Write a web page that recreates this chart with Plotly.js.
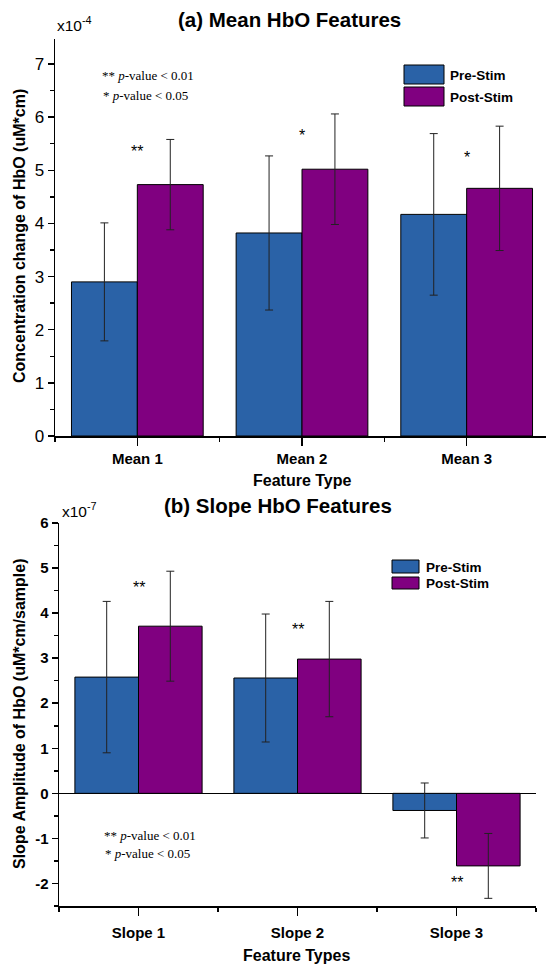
<!DOCTYPE html>
<html>
<head>
<meta charset="utf-8">
<script src="https://cdn.plot.ly/plotly-3.0.1.min.js"></script>
<style>
html,body{margin:0;padding:0;overflow:hidden;background:#fff;}
#chart{width:552px;height:965px;}
</style>
</head>
<body>
<div id="chart"></div>
<script>
// ---------- data (values in units of the axis multipliers) ----------
const categoriesMean = ['Mean 1', 'Mean 2', 'Mean 3'];
const preMean = [2.90, 3.82, 4.17];
const preMeanErr = [1.11, 1.45, 1.52];
const postMean = [4.73, 5.02, 4.66];
const postMeanErr = [0.85, 1.04, 1.17];
const sigMean = ['**', '*', '*'];
const sigMeanY = [5.35, 5.65, 5.24];

const categoriesSlope = ['Slope 1', 'Slope 2', 'Slope 3'];
const preSlope = [2.58, 2.56, -0.38];
const preSlopeErr = [1.68, 1.42, 0.61];
const postSlope = [3.71, 2.98, -1.61];
const postSlopeErr = [1.22, 1.28, 0.72];
const sigSlope = ['**', '**', '**'];
const sigSlopeY = [4.56, 3.63, -1.97];

const seriesNames = ['Pre-Stim', 'Post-Stim'];
const meanTickLabels = ['0','1','2','3','4','5','6','7'];
const slopeTickLabels = ['-2','-1','0','1','2','3','4','5','6'];

// ---------- style ----------
const BLUE = '#2A62A7';
const PURPLE = '#800080';
const SANS = 'Liberation Sans, Arial, sans-serif';
const SERIF = 'Liberation Serif, Times New Roman, serif';
const W = 552, H = 965;
const px = x => x / W;
const py = y => 1 - y / H;

const idxM = categoriesMean.map((c, i) => i);
const idxS = categoriesSlope.map((c, i) => i);

function barTrace(name, x, y, err, color, xa, ya) {
  return {
    type: 'bar', name: name, x: x, y: y, xaxis: xa, yaxis: ya,
    marker: {color: color, line: {color: '#000', width: 1}},
    error_y: {type: 'data', array: err, visible: true, color: '#222', thickness: 1, width: 4},
    showlegend: false, hoverinfo: 'x+y'
  };
}

const data = [
  barTrace(seriesNames[0], idxM, preMean, preMeanErr, BLUE, 'x', 'y'),
  barTrace(seriesNames[1], idxM, postMean, postMeanErr, PURPLE, 'x', 'y'),
  barTrace(seriesNames[0], idxS, preSlope, preSlopeErr, BLUE, 'x2', 'y2'),
  barTrace(seriesNames[1], idxS, postSlope, postSlopeErr, PURPLE, 'x2', 'y2')
];

const axLine = {showline: true, linecolor: '#000', linewidth: 1.5, showgrid: false, zeroline: false,
  tickcolor: '#000', tickwidth: 1.5, fixedrange: true};

const domXTop = [px(55), px(549)];
const domYTop = [py(436), py(39)];
const domXBot = [px(59), px(536)];
const domYBot = [py(906), py(523)];

const layout = {
  width: W, height: H,
  margin: {l: 0, r: 0, t: 0, b: 0, pad: 0},
  paper_bgcolor: '#fff', plot_bgcolor: 'rgba(0,0,0,0)',
  barmode: 'group', bargap: 0.2, bargroupgap: 0,
  showlegend: false,
  font: {family: SANS, color: '#000'},
  xaxis: Object.assign({}, axLine, {
    domain: domXTop, anchor: 'y', range: [-0.5, 2.5],
    tickmode: 'array', tickvals: idxM, ticktext: categoriesMean,
    ticks: 'outside', ticklen: 8,
    tickfont: {family: SANS, size: 15, weight: 'bold'},
    minor: {tick0: -0.5, dtick: 1, ticks: 'outside', ticklen: 4, tickwidth: 1.5, tickcolor: '#000'}
  }),
  yaxis: Object.assign({}, axLine, {
    domain: domYTop, anchor: 'x', range: [0, 7.47],
    tickmode: 'array', tickvals: meanTickLabels.map(Number), ticktext: meanTickLabels,
    ticks: 'outside', ticklen: 6,
    tickfont: {family: SANS, size: 17},
    minor: {tick0: 0.5, dtick: 1, ticks: 'outside', ticklen: 4, tickwidth: 1.5, tickcolor: '#000'}
  }),
  xaxis3: Object.assign({}, axLine, {
    overlaying: 'x', anchor: 'y', side: 'top', range: [-0.5, 2.5],
    tickmode: 'array', tickvals: [0, 0.5, 1, 1.5, 2], ticks: 'inside', ticklen: 5, showticklabels: false
  }),
  yaxis3: Object.assign({}, axLine, {
    overlaying: 'y', anchor: 'x', side: 'right', range: [0, 7.47],
    tickmode: 'array', tickvals: meanTickLabels.map(Number), ticks: 'inside', ticklen: 6, showticklabels: false,
    minor: {tick0: 0.5, dtick: 1, ticks: 'inside', ticklen: 3, tickwidth: 1.5, tickcolor: '#000'}
  }),
  xaxis2: Object.assign({}, axLine, {
    domain: domXBot, anchor: 'y2', range: [-0.5, 2.5],
    tickmode: 'array', tickvals: idxS, ticktext: categoriesSlope,
    ticks: 'outside', ticklen: 8, ticklabelstandoff: 4,
    tickfont: {family: SANS, size: 15, weight: 'bold'},
    minor: {tick0: -0.5, dtick: 1, ticks: 'outside', ticklen: 4, tickwidth: 1.5, tickcolor: '#000'}
  }),
  yaxis2: Object.assign({}, axLine, {
    domain: domYBot, anchor: 'x2', range: [-2.5, 6],
    tickmode: 'array', tickvals: slopeTickLabels.map(Number), ticktext: slopeTickLabels,
    ticks: 'outside', ticklen: 6,
    zeroline: true, zerolinecolor: '#000', zerolinewidth: 1.5,
    tickfont: {family: SANS, size: 15, weight: 'bold'},
    minor: {tick0: -2.5, dtick: 1, ticks: 'outside', ticklen: 4, tickwidth: 1.5, tickcolor: '#000'}
  }),
  xaxis4: Object.assign({}, axLine, {
    overlaying: 'x2', anchor: 'y2', side: 'top', range: [-0.5, 2.5],
    tickmode: 'array', tickvals: [0, 0.5, 1, 1.5, 2], ticks: 'inside', ticklen: 5, showticklabels: false
  }),
  yaxis4: Object.assign({}, axLine, {
    overlaying: 'y2', anchor: 'x2', side: 'right', range: [-2.5, 6],
    tickmode: 'array', tickvals: slopeTickLabels.map(Number), ticks: 'inside', ticklen: 6, showticklabels: false,
    minor: {tick0: -2.5, dtick: 1, ticks: 'inside', ticklen: 3, tickwidth: 1.5, tickcolor: '#000'}
  }),
  shapes: [
    {type: 'rect', xref: 'paper', yref: 'paper', x0: px(404), x1: px(444), y0: py(84), y1: py(65), fillcolor: BLUE, line: {color: '#000', width: 1}},
    {type: 'rect', xref: 'paper', yref: 'paper', x0: px(404), x1: px(444), y0: py(106), y1: py(87), fillcolor: PURPLE, line: {color: '#000', width: 1}},
    {type: 'rect', xref: 'paper', yref: 'paper', x0: px(392), x1: px(419), y0: py(573), y1: py(560), fillcolor: BLUE, line: {color: '#000', width: 1}},
    {type: 'rect', xref: 'paper', yref: 'paper', x0: px(392), x1: px(419), y0: py(589), y1: py(577), fillcolor: PURPLE, line: {color: '#000', width: 1}}
  ],
  annotations: []
};

const A = layout.annotations;
function pa(x, y, text, font, xanchor, angle) {
  A.push({xref: 'paper', yref: 'paper', x: px(x), y: py(y), text: text, showarrow: false,
    xanchor: xanchor || 'center', yanchor: 'middle', textangle: angle || 0, font: font});
}
// titles
pa(289, 20, '<b>(a) Mean HbO Features</b>', {family: SANS, size: 20.5});
pa(278, 505, '<b>(b) Slope HbO Features</b>', {family: SANS, size: 20.5});
// multipliers
pa(55, 24, 'x10<sup>-4</sup>', {family: SANS, size: 15.5}, 'left');
pa(60, 510, 'x10<sup>-7</sup>', {family: SANS, size: 15.5}, 'left');
// axis titles
pa(19, 236, '<b>Concentration change of HbO (uM*cm)</b>', {family: SANS, size: 16}, 'center', -90);
pa(19, 714, '<b>Slope Amplitude of HbO (uM*cm/sample)</b>', {family: SANS, size: 16}, 'center', -90);
pa(302, 480, '<b>Feature Type</b>', {family: SANS, size: 16});
pa(297, 955, '<b>Feature Types</b>', {family: SANS, size: 16});
// legends
pa(448, 75, '<b>' + seriesNames[0] + '</b>', {family: SANS, size: 13.5}, 'left');
pa(448, 97, '<b>' + seriesNames[1] + '</b>', {family: SANS, size: 13.5}, 'left');
pa(424, 567, '<b>' + seriesNames[0] + '</b>', {family: SANS, size: 13.5}, 'left');
pa(424, 583, '<b>' + seriesNames[1] + '</b>', {family: SANS, size: 13.5}, 'left');
// p-value notes
pa(100, 75, '** <i>p</i>-value &lt; 0.01', {family: SERIF, size: 13}, 'left');
pa(101, 95, '* <i>p</i>-value &lt; 0.05', {family: SERIF, size: 13}, 'left');
pa(102, 835, '** <i>p</i>-value &lt; 0.01', {family: SERIF, size: 13}, 'left');
pa(103, 853, '* <i>p</i>-value &lt; 0.05', {family: SERIF, size: 13}, 'left');
// significance marks
idxM.forEach(i => A.push({xref: 'x', yref: 'y', x: i, y: sigMeanY[i], text: sigMean[i], showarrow: false,
  yanchor: 'middle', font: {family: SANS, size: 16}}));
idxS.forEach(i => A.push({xref: 'x2', yref: 'y2', x: i, y: sigSlopeY[i], text: sigSlope[i], showarrow: false,
  yanchor: 'middle', font: {family: SANS, size: 16}}));

Plotly.newPlot('chart', data, layout, {displayModeBar: false, staticPlot: true});
</script>
</body>
</html>
